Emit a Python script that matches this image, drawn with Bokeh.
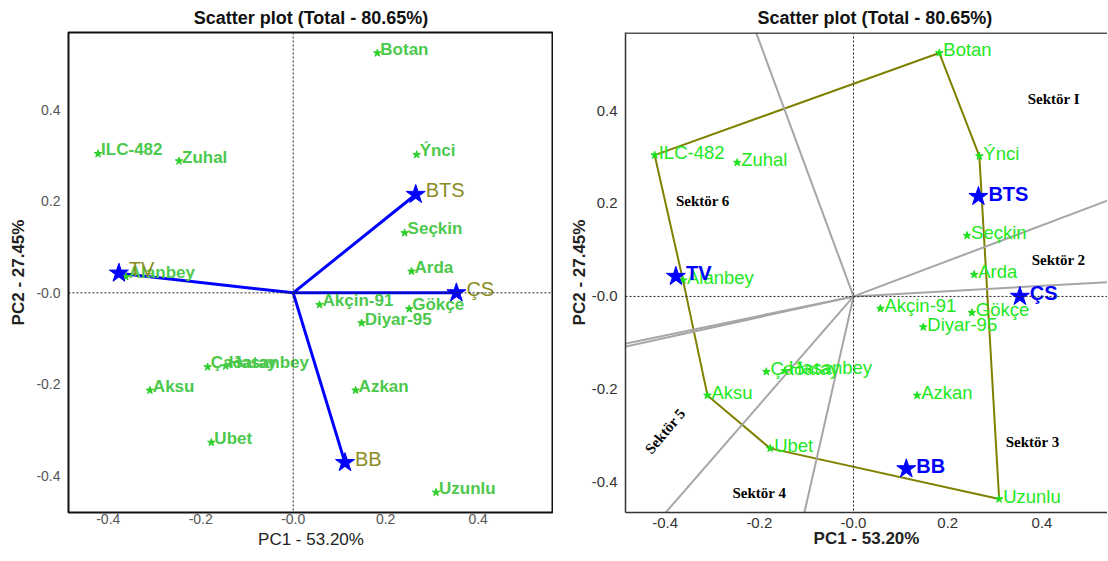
import numpy as np
from bokeh.plotting import figure
from bokeh.layouts import row
from bokeh.models import ColumnDataSource, Span, FixedTicker, Range1d
from bokeh.core.properties import value
from bokeh.embed import file_html
from bokeh.resources import INLINE

# ---------------- data ----------------
genotypes = ["Botan", "ILC-482", "Zuhal", "Ýnci", "Seçkin", "Arda", "Alanbey",
             "Akçin-91", "Gökçe", "Diyar-95", "Çaðatay", "Hasanbey", "Aksu",
             "Azkan", "Ubet", "Uzunlu"]
gen_pc1 = [0.182, -0.422, -0.247, 0.267, 0.241, 0.256, -0.362,
           0.057, 0.251, 0.148, -0.185, -0.146, -0.310,
           0.135, -0.177, 0.309]
gen_pc2 = [0.524, 0.304, 0.288, 0.302, 0.131, 0.047, 0.035,
           -0.026, -0.035, -0.066, -0.162, -0.160, -0.213,
           -0.213, -0.327, -0.436]

environments = ["TV", "BTS", "ÇS", "BB"]
env_pc1 = [-0.377, 0.265, 0.353, 0.112]
env_pc2 = [0.043, 0.215, 0.000, -0.371]

hull_names = ["Botan", "Ýnci", "Uzunlu", "Ubet", "Aksu", "Alanbey", "ILC-482"]

sector_names = ["Sektör I", "Sektör 2", "Sektör 3", "Sektör 4", "Sektör 5", "Sektör 6"]

tick_values = [-0.4, -0.2, 0.0, 0.2, 0.4]
tick_labels = ["-0.4", "-0.2", "-0.0", "0.2", "0.4"]

title_text = "Scatter plot (Total - 80.65%)"
x_title = "PC1 - 53.20%"
y_title = "PC2 - 27.45%"

# ---------------- helpers ----------------
SANS = "Liberation Sans"
SERIF = "Liberation Serif"
overrides = {float(v): l for v, l in zip(tick_values, tick_labels)}

gsrc = ColumnDataSource(dict(x=gen_pc1, y=gen_pc2, name=genotypes))
esrc = ColumnDataSource(dict(x=env_pc1, y=env_pc2, name=environments,
                             x0=[0.0] * len(env_pc1), y0=[0.0] * len(env_pc1)))


def style_axes(p, tick_size, tick_color, label_style_x, tick_standoff_x,
               tick_standoff_y, lab_standoff_x, lab_standoff_y):
    for ax in (p.xaxis[0], p.yaxis[0]):
        ax.ticker = FixedTicker(ticks=tick_values)
        ax.major_label_overrides = overrides
        ax.axis_line_color = None
        ax.major_tick_line_color = None
        ax.minor_tick_line_color = None
        ax.major_tick_out = 0
        ax.major_tick_in = 0
        ax.major_label_text_font = SANS
        ax.major_label_text_font_size = tick_size
        ax.major_label_text_color = tick_color
        ax.axis_label_text_font = SANS
        ax.axis_label_text_font_size = "17px"
        ax.axis_label_text_color = "#222222"
    p.xaxis.axis_label = x_title
    p.yaxis.axis_label = y_title
    p.xaxis.axis_label_text_font_style = label_style_x
    p.yaxis.axis_label_text_font_style = "bold"
    p.xaxis.major_label_standoff = tick_standoff_x
    p.yaxis.major_label_standoff = tick_standoff_y
    p.xaxis.axis_label_standoff = lab_standoff_x
    p.yaxis.axis_label_standoff = lab_standoff_y
    p.yaxis.major_label_orientation = "horizontal"
    p.xgrid.visible = False
    p.ygrid.visible = False
    p.title.text_font = SANS
    p.title.text_font_size = "18px"
    p.title.text_font_style = "bold"
    p.title.text_color = "#111111"
    p.add_layout(Span(location=0, dimension="height", line_color="#222222",
                      line_width=1, line_dash="2 2"))
    p.add_layout(Span(location=0, dimension="width", line_color="#222222",
                      line_width=1, line_dash="2 2"))


# ---------------- left plot ----------------
p1 = figure(width=547, height=552, output_backend="svg", toolbar_location=None,
            x_range=Range1d(-0.486, 0.563), y_range=Range1d(-0.480, 0.569),
            min_border_left=56, min_border_right=0, min_border_top=24,
            min_border_bottom=40, title=title_text)
p1.margin = (0, 0, 0, 6)
p1.title.align = "center"
p1.outline_line_color = "#111111"
p1.outline_line_width = 2
style_axes(p1, "14px", "#555555", "normal", 1, 8, 3, 5)

p1.segment(x0="x0", y0="y0", x1="x", y1="y", source=esrc, line_color="blue",
           line_width=3)
p1.scatter(x="x", y="y", source=gsrc, marker="star", size=8,
           fill_color="#2ccf2c", line_color="#2ccf2c")
p1.text(x="x", y="y", text="name", source=gsrc, text_font=value(SANS),
        text_font_size="17px", text_font_style="bold", text_color="#4cc94c",
        text_baseline="middle", x_offset=3, y_offset=-4)
p1.scatter(x="x", y="y", source=esrc, marker="star", size=20,
           fill_color="blue", line_color="blue")
p1.text(x="x", y="y", text="name", source=esrc, text_font=value(SANS),
        text_font_size="20px", text_color="#8c8c1e", text_baseline="middle",
        x_offset=10, y_offset=-4)

# ---------------- right plot ----------------
y2_top = 0.568
p2 = figure(width=548, height=552, output_backend="svg", toolbar_location=None,
            x_range=Range1d(-0.484, 0.539), y_range=Range1d(-0.465, y2_top),
            min_border_left=66, min_border_right=0, min_border_top=24,
            min_border_bottom=40, title=title_text)
p2.margin = (0, 0, 0, 6)
p2.title.align = "left"
p2.title.offset = 132
p2.outline_line_color = None
style_axes(p2, "15px", "#333333", "bold", 5, 8, -2, 0)
p2.xaxis.axis_line_color = "#333333"
p2.xaxis.axis_line_width = 1.5
p2.yaxis.axis_line_color = "#333333"
p2.yaxis.axis_line_width = 1.5
p2.add_layout(Span(location=y2_top, dimension="width", line_color="#555555",
                   line_width=3))

# convex hull polygon of genotypes
idx = {g: i for i, g in enumerate(genotypes)}
hx = [gen_pc1[idx[g]] for g in hull_names]
hy = [gen_pc2[idx[g]] for g in hull_names]
p2.line(x=hx + [hx[0]], y=hy + [hy[0]], line_color="#808000", line_width=2)

# sector rays: from origin, perpendicular to each hull side
rx1, ry1 = [], []
for i in range(len(hx)):
    a = np.array([hx[i], hy[i]])
    b = np.array([hx[(i + 1) % len(hx)], hy[(i + 1) % len(hy)]])
    d = b - a
    t = -a.dot(d) / d.dot(d)
    foot = a + t * d
    u = foot / np.linalg.norm(foot) * 1.2
    rx1.append(u[0])
    ry1.append(u[1])
p2.segment(x0=[0.0] * len(rx1), y0=[0.0] * len(ry1), x1=rx1, y1=ry1,
           line_color="#a6a6a6", line_width=2)

p2.scatter(x="x", y="y", source=gsrc, marker="star", size=8,
           fill_color="#1fe01f", line_color="#1fe01f")
p2.text(x="x", y="y", text="name", source=gsrc, text_font=value(SANS),
        text_font_size="18.5px", text_color="#22e822", text_baseline="middle",
        x_offset=4, y_offset=-3)
p2.scatter(x="x", y="y", source=esrc, marker="star", size=20,
           fill_color="blue", line_color="blue")
p2.text(x="x", y="y", text="name", source=esrc, text_font=value(SANS),
        text_font_size="20px", text_font_style="bold", text_color="blue",
        text_baseline="middle", x_offset=10, y_offset=-3)

# sector labels (annotation placement)
sec_x = [0.425, 0.435, 0.38, -0.20, -0.40, -0.32]
sec_y = [0.425, 0.079, -0.313, -0.422, -0.29, 0.205]
sec_angle = [0, 0, 0, 0, np.deg2rad(50), 0]
p2.text(x=sec_x, y=sec_y, text=sector_names, angle=sec_angle,
        text_font=value(SERIF), text_font_size="15px", text_font_style="bold",
        text_color="black", text_align="center", text_baseline="middle")

layout = row(p1, p2)
open("out.html", "w").write(file_html(layout, INLINE))
